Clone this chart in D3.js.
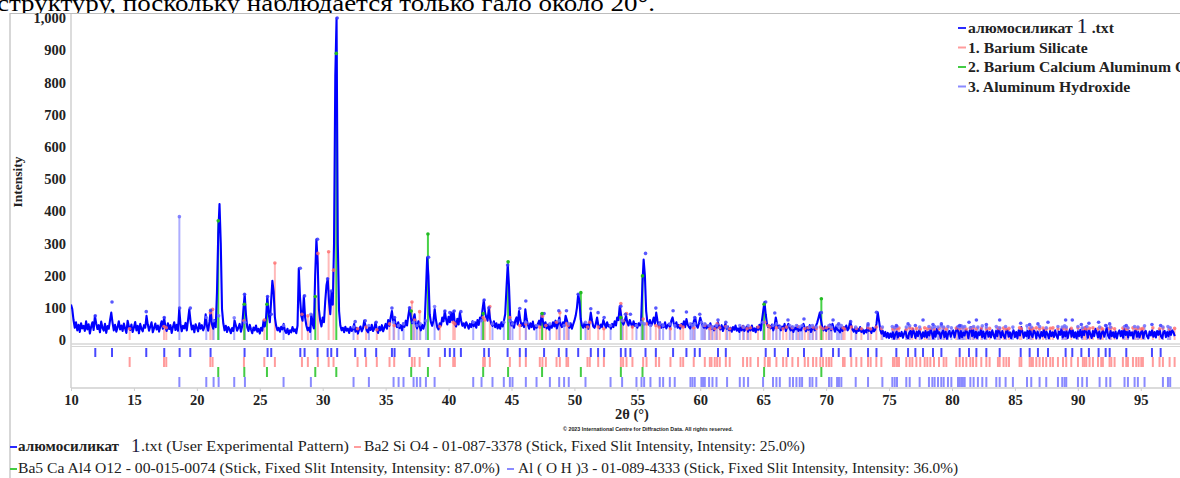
<!DOCTYPE html>
<html>
<head>
<meta charset="utf-8">
<script src="https://cdn.jsdelivr.net/npm/d3@7"></script>
<style>
body { margin: 0; background: #fff; }
svg { display: block; }
</style>
</head>
<body>
<svg id="chart" width="1180" height="478"></svg>
<script>
var width = 1180, height = 478;

// measured pattern, 2theta from 10.0 step 0.1
var startAngle = 10.0, stepAngle = 0.1;
var intensity = [
 110,96,62,38,55,30,47,25,52,36,
 44,28,58,33,49,20,41,55,31,75,
 52,34,46,24,57,38,29,50,22,43,
 35,61,85,54,30,47,26,40,58,33,
 45,28,51,36,22,60,42,31,48,25,
 39,56,30,44,21,50,35,27,46,38,
 75,48,29,42,55,24,37,51,33,45,
 26,43,58,35,70,41,28,52,34,46,
 22,40,55,31,47,29,95,50,27,44,
 36,53,30,62,95,58,33,45,24,49,
 38,27,52,35,46,30,41,80,44,29,
 56,90,48,35,62,40,150,330,422,300,
 95,52,30,44,25,40,33,21,37,28,
 60,45,29,38,50,26,42,95,142,80,
 40,28,47,33,21,39,30,45,26,35,
 20,38,29,60,42,70,135,85,55,120,
 184,150,70,44,30,38,26,41,33,50,
 29,22,35,18,30,24,40,27,33,21,
 45,223,130,75,60,137,70,45,30,38,
 25,80,50,36,200,313,240,95,60,42,
 70,55,120,170,190,120,80,150,110,300,
 820,1000,300,90,45,30,38,24,41,29,
 35,22,40,28,33,50,26,38,20,34,
 42,27,36,60,45,30,24,39,31,47,
 28,36,55,33,22,41,30,46,27,38,
 50,35,62,44,70,90,58,70,48,40,
 55,37,46,30,52,41,60,45,75,100,
 70,52,65,80,48,36,58,42,30,47,
 35,50,150,257,200,80,55,44,60,95,
 62,40,33,52,45,70,58,90,65,48,
 72,55,85,60,90,50,42,66,48,85,
 60,44,52,38,55,46,35,50,40,58,
 43,55,38,62,47,70,60,95,124,85,
 70,60,100,65,50,44,58,40,52,36,
 48,35,55,42,60,80,160,233,170,65,
 45,55,38,60,70,48,90,62,44,52,
 40,95,65,48,35,52,40,57,33,45,
 38,50,60,45,82,58,40,55,36,48,
 32,45,38,55,42,60,36,50,70,48,
 40,55,44,75,62,45,38,52,35,48,
 60,75,100,142,120,65,45,38,52,40,
 48,35,55,85,60,42,38,50,70,45,
 36,48,40,62,50,38,55,42,46,35,
 50,40,58,45,70,62,105,80,55,48,
 60,75,55,45,62,50,40,58,44,50,
 38,52,45,60,170,250,200,90,55,48,
 62,45,55,70,50,85,60,42,55,38,
 48,40,55,36,45,50,38,60,70,50,
 42,55,38,47,35,50,42,58,40,65,
 48,40,36,50,42,60,70,45,38,52,
 70,55,44,38,50,36,45,40,52,35,
 42,30,45,38,55,40,33,46,28,40,
 50,35,42,30,38,26,40,32,45,29,
 36,25,40,30,44,28,35,42,26,38,
 30,45,28,36,24,40,32,47,30,60,
 90,118,80,50,40,45,36,48,30,42,
 70,50,38,45,30,42,35,50,28,40,
 50,36,30,42,25,38,33,45,28,36,
 30,42,50,38,27,40,32,46,25,35,
 40,30,45,55,70,85,60,38,30,42,
 28,40,35,48,30,50,38,26,42,32,
 30,24,38,28,40,33,45,30,36,57,
 45,32,26,38,22,35,28,40,25,33,
 20,30,24,45,28,35,22,38,27,32,
 50,86,60,32,20,28,12,25,8,22,
 6,20,9,24,4,18,26,8,22,12,
 25,7,20,30,10,5,22,28,9,35,
 22,6,26,12,30,20,5,24,10,28,
 8,25,14,32,22,5,28,10,35,20,
 24,6,22,30,9,26,4,20,28,10,
 22,30,8,25,40,24,6,28,9,23,
 14,32,25,5,28,40,12,30,8,26,
 6,24,15,35,9,26,5,22,30,10,
 25,8,30,16,5,28,12,35,24,8,
 28,14,6,26,32,10,24,5,22,30,
 9,25,5,30,14,40,26,7,24,12,
 28,6,35,16,9,30,24,5,26,14,
 7,25,12,32,8,26,18,5,28,12,
 24,9,30,14,5,26,16,35,8,25,
 12,28,6,24,35,10,30,8,24,5,
 26,12,32,8,28,15,40,25,7,30,
 18,6,28,12,35,24,8,26,5,22,
 30,10,25,38,14,6,28,12,24,8,
 26,5,22,30,12,28,7,35,16,25,
 8,28,14,24,5,26,30,10,25,8,
 22,30,6,24,28,12,5,26,14,30,
 10,25,8,28,16,32,12,6,24,28,
 9,25,12,28,16,30,24,12
];

// peak list of the pattern [2theta, intensity]
var peakList = [
 [11.93,75],[13.26,118],[15.98,88],[17.41,70],[18.63,99],[19.48,99],[21.09,92],[23.79,142],
 [25.62,135],[25.91,80],[28.22,223],[28.56,137],[29.59,313],[30.39,190],[30.68,152],[31.15,1000],
 [32.58,57],[33.38,60],[34.25,55],[35.50,99],[35.71,70],[36.90,100],[38.41,257],[39.71,90],
 [40.10,85],[40.45,90],[40.98,88],[42.83,124],[43.20,100],[44.69,233],[45.66,98],[46.14,121],
 [47.59,82],[48.76,91],[49.37,91],[50.30,142],[51.30,97],[51.88,85],[52.36,70],[53.69,105],
 [54.06,80],[54.45,80],[55.65,269],[56.47,99],[57.84,91],[58.90,87],[59.56,70],[59.96,80],
 [61.41,62],[62.03,55],[65.20,118],[65.92,84],[66.97,62],[68.24,65],[69.62,85],[70.55,62],
 [71.00,50],[71.95,57],[73.33,50],[74.00,86],[75.58,45],[76.51,50],[77.09,45],[77.70,62],
 [78.49,48],[79.16,50],[80.61,45],[81.35,55],[81.94,62],[82.73,48],[83.79,62],[85.46,52],
 [86.17,48],[86.83,50],[87.63,55],[89.03,62],[89.56,62],[90.28,48],[90.88,52],[91.65,55],
 [92.21,45],[92.53,50],[93.85,45],[95.89,48],[96.58,45]
];

// 1. Barium Silicate, Ba2 Si O4
var silicateSticks = [
 [14.66,35],[17.39,42],[17.57,38],[21.07,85],[21.25,95],[23.74,60],[25.36,62],[26.20,239],
 [28.35,80],[28.82,75],[29.62,269],[30.47,274],[30.86,217],[32.77,35],[33.45,40],[34.30,32],
 [35.31,50],[35.68,45],[37.09,118],[37.30,62],[37.70,88],[39.31,42],[40.37,55],[40.50,50],
 [42.75,70],[42.88,62],[43.28,104],[44.87,70],[45.66,45],[46.14,50],[47.25,40],[47.46,74],
 [47.73,45],[48.58,55],[48.84,85],[49.37,50],[49.50,45],[51.04,40],[51.22,55],[51.89,40],
 [52.34,35],[53.69,113],[53.87,60],[54.14,82],[54.61,40],[55.46,65],[55.73,50],[56.47,45],
 [56.73,40],[57.63,35],[58.43,45],[58.64,40],[59.48,38],[60.36,45],[60.76,35],[60.89,40],
 [61.15,35],[61.34,50],[61.55,38],[62.03,42],[62.34,35],[63.40,40],[63.72,35],[63.99,38],
 [64.59,40],[65.12,55],[65.39,45],[65.52,40],[66.05,38],[66.58,35],[66.85,40],[67.32,38],
 [67.77,42],[68.30,35],[68.57,38],[68.96,40],[69.22,36],[69.54,40],[69.75,35],[70.02,38],
 [70.23,42],[70.42,36],[71.34,38],[71.47,34],[72.00,40],[72.40,36],[72.80,35],[73.33,38],
 [73.54,34],[73.99,40],[74.39,36],[75.31,34],[75.45,38],[75.63,35],[75.79,37],[76.37,33],
 [76.64,38],[76.85,35],[77.17,36],[77.48,34],[77.83,38],[78.04,35],[78.28,37],[78.57,34],
 [78.97,36],[79.34,38],[79.55,34],[80.34,37],[80.61,35],[80.87,38],[81.14,34],[81.46,36],
 [81.67,38],[81.93,35],[82.33,37],[82.73,34],[82.99,36],[83.65,38],[83.79,35],[84.10,37],
 [84.32,34],[84.53,36],[85.37,38],[85.51,35],[86.17,37],[86.30,34],[86.43,36],[86.70,38],
 [86.96,35],[87.23,37],[87.49,34],[87.81,36],[88.02,38],[88.42,35],[88.82,37],[89.08,34],
 [89.48,36],[90.01,38],[90.40,35],[90.54,37],[90.67,34],[90.93,36],[91.20,38],[91.60,35],
 [91.86,37],[91.99,34],[92.52,36],[92.66,38],[92.92,35],[93.58,37],[93.85,34],[93.98,36],
 [94.38,38],[94.64,35],[94.83,37],[95.04,34],[95.17,36],[95.96,38],[96.49,35],[96.76,37],
 [97.29,34],[97.69,36]
];

// 2. Barium Calcium Aluminum Oxide, Ba5 Ca Al4 O12
var bcaSticks = [
 [21.70,370],[23.77,111],[25.57,111],[29.41,135],[31.08,890],[37.03,90],[38.36,329],[42.75,82],
 [44.73,243],[47.43,82],[50.51,147],[53.69,70],[55.41,199],[65.07,111],[69.62,128]
];

// 3. Aluminum Hydroxide, Al(OH)3
var hydroxSticks = [
 [18.61,383],[20.75,70],[21.33,60],[21.73,75],[22.97,69],[23.82,55],[26.89,45],[29.06,80],
 [32.45,40],[33.67,45],[35.63,55],[36.03,45],[36.42,50],[37.22,55],[37.48,45],[37.75,50],
 [38.20,60],[38.89,104],[41.96,55],[42.62,60],[43.49,50],[44.39,55],[44.87,60],[45.08,50],
 [46.14,55],[46.99,45],[48.05,50],[48.79,60],[49.18,45],[49.55,50],[50.88,55],[52.87,45],
 [53.79,60],[54.93,45],[55.33,55],[55.54,50],[56.04,45],[56.78,50],[57.05,45],[57.58,50],
 [57.97,45],[59.22,50],[59.38,45],[59.56,50],[60.09,55],[60.22,45],[60.36,50],[60.70,45],
 [60.97,40],[61.29,45],[62.13,40],[63.14,45],[63.46,40],[63.80,45],[64.99,55],[65.78,45],
 [66.05,50],[66.32,40],[67.11,45],[67.37,40],[67.64,45],[67.90,40],[68.09,45],[68.70,40],
 [68.91,45],[69.22,40],[70.23,45],[70.42,40],[70.87,45],[71.02,40],[71.21,45],[72.35,40],
 [73.33,45],[74.47,40],[75.26,42],[75.45,38],[75.63,42],[76.37,40],[76.64,44],[77.43,40],
 [78.17,42],[78.44,38],[78.62,42],[78.89,40],[79.15,44],[79.34,40],[79.68,42],[79.95,38],
 [80.48,42],[80.61,40],[80.74,44],[80.87,40],[81.01,42],[81.46,38],[81.72,42],[82.06,40],
 [82.41,44],[82.73,40],[83.52,42],[83.79,38],[84.26,42],[84.84,40],[85.96,44],[86.30,40],
 [86.96,42],[87.49,38],[88.42,42],[88.76,40],[88.95,44],[89.08,40],[90.01,42],[90.35,38],
 [90.72,42],[91.73,40],[92.26,44],[92.58,40],[93.71,42],[93.98,38],[94.51,42],[94.77,40],
 [95.30,44],[96.76,40],[97.16,42],[97.34,38]
];

var xTicks = [10,15,20,25,30,35,40,45,50,55,60,65,70,75,80,85,90,95];
var yTicks = [0,100,200,300,400,500,600,700,800,900,1000];

var legendNames = ["алюмосиликат", "1. Barium Silicate", "2. Barium Calcium Aluminum Oxide", "3. Aluminum Hydroxide"];
var legendColors = ["#2a2aff", "#ff9c9c", "#44cc44", "#8a8aff"];

var bottomLegend1 = ["алюмосиликат", ".txt (User Experimental Pattern)", "Ba2 Si O4 - 01-087-3378 (Stick, Fixed Slit Intensity, Intensity: 25.0%)"];
var bottomLegend2 = ["Ba5 Ca Al4 O12 - 00-015-0074 (Stick, Fixed Slit Intensity, Intensity: 87.0%)", "Al ( O H )3 - 01-089-4333 (Stick, Fixed Slit Intensity, Intensity: 36.0%)"];

var serif = "'Liberation Serif', 'DejaVu Serif', serif";

var svg = d3.select("#chart");

// text of the document above the picture
svg.append("text")
  .attr("x", -3).attr("y", 11)
  .attr("textLength", 658).attr("lengthAdjust", "spacingAndGlyphs")
  .style("font-family", "'Liberation Serif', serif").style("font-size", "24px")
  .attr("fill", "#000")
  .text("структуру, поскольку наблюдается только гало около 20°.");

svg.append("rect").attr("x", 0).attr("y", 13).attr("width", width).attr("height", height - 13).attr("fill", "#fff");

// outer frame
svg.append("path").attr("d", "M10,478V13.5H1180").attr("fill", "none").attr("stroke", "#bdbdbd").attr("stroke-width", 1.2);

var x = d3.scaleLinear().domain([10, 97.8]).range([71, 1176]);
var y = d3.scaleLinear().domain([0, 1000]).range([340, 18]);

// plot frame lines
svg.append("line").attr("x1", 71).attr("x2", 71).attr("y1", 14).attr("y2", 388).attr("stroke", "#d0d0d0").attr("stroke-width", 1.5);
svg.append("line").attr("x1", 71).attr("x2", 1180).attr("y1", 344).attr("y2", 344).attr("stroke", "#d6d6d6").attr("stroke-width", 1.5);
svg.append("line").attr("x1", 71).attr("x2", 1180).attr("y1", 346.5).attr("y2", 346.5).attr("stroke", "#d6d6d6").attr("stroke-width", 1);
svg.append("line").attr("x1", 71).attr("x2", 1180).attr("y1", 388).attr("y2", 388).attr("stroke", "#cfcfcf").attr("stroke-width", 1.5);

svg.append("clipPath").attr("id", "plotclip").append("rect")
  .attr("x", 71).attr("y", 14).attr("width", 1109).attr("height", 330);

var plot = svg.append("g").attr("clip-path", "url(#plotclip)");

function sticks(g, data, color, op, sw) {
  g.selectAll(null).data(data).enter().append("line")
    .attr("x1", function(d) { return x(d[0]); })
    .attr("x2", function(d) { return x(d[0]); })
    .attr("y1", y(0))
    .attr("y2", function(d) { return y(d[1]); })
    .attr("stroke", color).attr("stroke-opacity", op).attr("stroke-width", sw);
}
function dots(g, data, color, op) {
  g.selectAll(null).data(data).enter().append("circle")
    .attr("cx", function(d) { return x(d[0]); })
    .attr("cy", function(d) { return y(d[1]); })
    .attr("r", 1.8)
    .attr("fill", color).attr("fill-opacity", op);
}

sticks(plot, silicateSticks, "#ff8a8a", 0.6, 2);
sticks(plot, hydroxSticks, "#8a8aff", 0.7, 2);
sticks(plot, bcaSticks, "#33cc33", 0.9, 2);

var line = d3.line()
  .x(function(d, i) { return x(startAngle + i * stepAngle); })
  .y(function(d) { return y(d); });

plot.append("path").datum(intensity)
  .attr("d", line)
  .attr("fill", "none")
  .attr("stroke", "#0000ff")
  .attr("stroke-width", 2.1)
  .attr("stroke-linejoin", "round");

dots(plot, silicateSticks, "#ff6b6b", 0.8);
dots(plot, hydroxSticks, "#7070ff", 0.85);
dots(plot, peakList, "#3b3bff", 0.85);
dots(plot, bcaSticks, "#22bb22", 1);

// stick pane
var rows = [
  {data: peakList, color: "#4848ff", y0: 348, y1: 357},
  {data: silicateSticks, color: "#ff9c9c", y0: 357, y1: 367},
  {data: bcaSticks, color: "#44cc44", y0: 367, y1: 377},
  {data: hydroxSticks, color: "#8a8aff", y0: 377, y1: 387}
];
rows.forEach(function(r) {
  svg.append("g").selectAll("line").data(r.data).enter().append("line")
    .attr("x1", function(d) { return x(d[0]); })
    .attr("x2", function(d) { return x(d[0]); })
    .attr("y1", r.y0).attr("y2", r.y1)
    .attr("stroke", r.color).attr("stroke-width", 2);
});

// axes
var xAxis = svg.append("g").attr("transform", "translate(0,388)")
  .call(d3.axisBottom(x).tickValues(xTicks).tickSize(3).tickPadding(4));
xAxis.select(".domain").remove();
xAxis.selectAll("line").attr("stroke", "#d0d0d0");
xAxis.selectAll("text").style("font-family", serif).style("font-size", "14.5px").style("font-weight", "bold").attr("fill", "#222");

var yAxis = svg.append("g").attr("transform", "translate(66,0)")
  .call(d3.axisLeft(y).tickValues(yTicks).tickSize(0).tickPadding(0).tickFormat(d3.format(",")));
yAxis.select(".domain").remove();
yAxis.selectAll("text").style("font-family", serif).style("font-size", "14.5px").style("font-weight", "bold").attr("fill", "#222");

svg.append("text")
  .attr("transform", "translate(22,182) rotate(-90)")
  .attr("text-anchor", "middle")
  .style("font-family", serif).style("font-size", "13.5px").style("font-weight", "bold").attr("fill", "#222")
  .text("Intensity");

svg.append("text")
  .attr("x", 632).attr("y", 419).attr("text-anchor", "middle")
  .style("font-family", serif).style("font-size", "14.5px").style("font-weight", "bold").attr("fill", "#222")
  .text("2θ (°)");

svg.append("text")
  .attr("x", 563).attr("y", 431)
  .attr("textLength", 170).attr("lengthAdjust", "spacingAndGlyphs")
  .style("font-family", "'Liberation Sans', sans-serif").style("font-size", "6px").style("font-weight", "bold").attr("fill", "#222")
  .text("© 2023 International Centre for Diffraction Data. All rights reserved.");

// legend in the plot, stretched a little to the width of the original font
var leg = svg.append("g");
legendNames.forEach(function(name, i) {
  var ly = 28 + i * 19.5;
  leg.append("line").attr("x1", 958).attr("x2", 966).attr("y1", ly).attr("y2", ly)
    .attr("stroke", legendColors[i]).attr("stroke-width", 2);
  var t = leg.append("text").attr("x", 968).attr("y", ly + 5)
    .style("font-family", serif).style("font-size", "14px").style("font-weight", "bold").attr("fill", "#222");
  if (i === 0) {
    t.append("tspan").text(name + " ");
    t.append("tspan").style("font-size", "20px").style("font-weight", "normal").attr("fill", "#1c1c40").text("1");
    t.append("tspan").text(" .txt");
  } else {
    t.text(name);
  }
  var w = t.node().getComputedTextLength();
  t.attr("textLength", w * 1.12).attr("lengthAdjust", "spacingAndGlyphs");
});

// legend under the plot
function mark(xx, yy, color) {
  svg.append("line").attr("x1", xx).attr("x2", xx + 7).attr("y1", yy).attr("y2", yy)
    .attr("stroke", color).attr("stroke-width", 2);
}
function label(xx, yy, len, txt, bold) {
  svg.append("text").attr("x", xx).attr("y", yy)
    .attr("textLength", len).attr("lengthAdjust", "spacingAndGlyphs")
    .style("font-family", serif).style("font-size", "14px")
    .style("font-weight", bold ? "bold" : "normal").attr("fill", "#222")
    .text(txt);
}
mark(10, 447, legendColors[0]);
label(18, 451, 101, bottomLegend1[0], true);
svg.append("text").attr("x", 131).attr("y", 452)
  .style("font-family", serif).style("font-size", "19px").attr("fill", "#1c1c40").text("1");
label(141, 451, 208, bottomLegend1[1], false);
mark(354, 447, legendColors[1]);
label(364, 451, 441, bottomLegend1[2], false);

mark(10, 469, legendColors[2]);
label(18, 473, 482, bottomLegend2[0], false);
mark(507, 469, legendColors[3]);
label(518, 473, 440, bottomLegend2[1], false);
</script>
</body>
</html>
